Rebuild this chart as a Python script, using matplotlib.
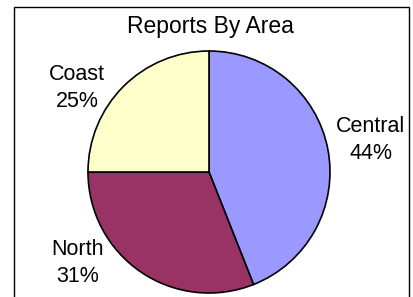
import matplotlib
matplotlib.use("Agg")
import matplotlib.pyplot as plt
from matplotlib.patches import Rectangle

# data
areas = ["Central", "North", "Coast"]
reports = [44, 31, 25]
colors = ["#9999FF", "#993366", "#FFFFCC"]

plt.rcParams['font.family'] = ['Liberation Sans', 'DejaVu Sans']

W, H = 414, 297
fig = plt.figure(figsize=(W / 100, H / 100), dpi=100)
ax = fig.add_axes([0, 0, 1, 1])

ax.pie(reports, colors=colors, startangle=90, counterclock=False,
       center=(209, H - 172), radius=121,
       wedgeprops=dict(edgecolor="black", linewidth=1.2))
ax.set_xlim(0, W)
ax.set_ylim(0, H)
ax.set_aspect('equal')
ax.axis('off')

# outer chart border (bottom edge runs off the image)
fig.patches.append(Rectangle((14, -10), 395, H - 7 + 10, transform=None,
                             fill=False, edgecolor="black", linewidth=1))

ax.text(210, H - 27, "Reports By Area", ha="center", va="center", fontsize=16.5)

label_pos = {"Central": (371, H - 140), "North": (78, H - 263), "Coast": (77, H - 88)}
total = sum(reports)
for name, v in zip(areas, reports):
    x, y = label_pos[name]
    ax.text(x, y, f"{name}\n{v / total * 100:.0f}%", ha="center", va="center",
            fontsize=15.5, linespacing=1.4)

fig.savefig("out.png", dpi=100)
